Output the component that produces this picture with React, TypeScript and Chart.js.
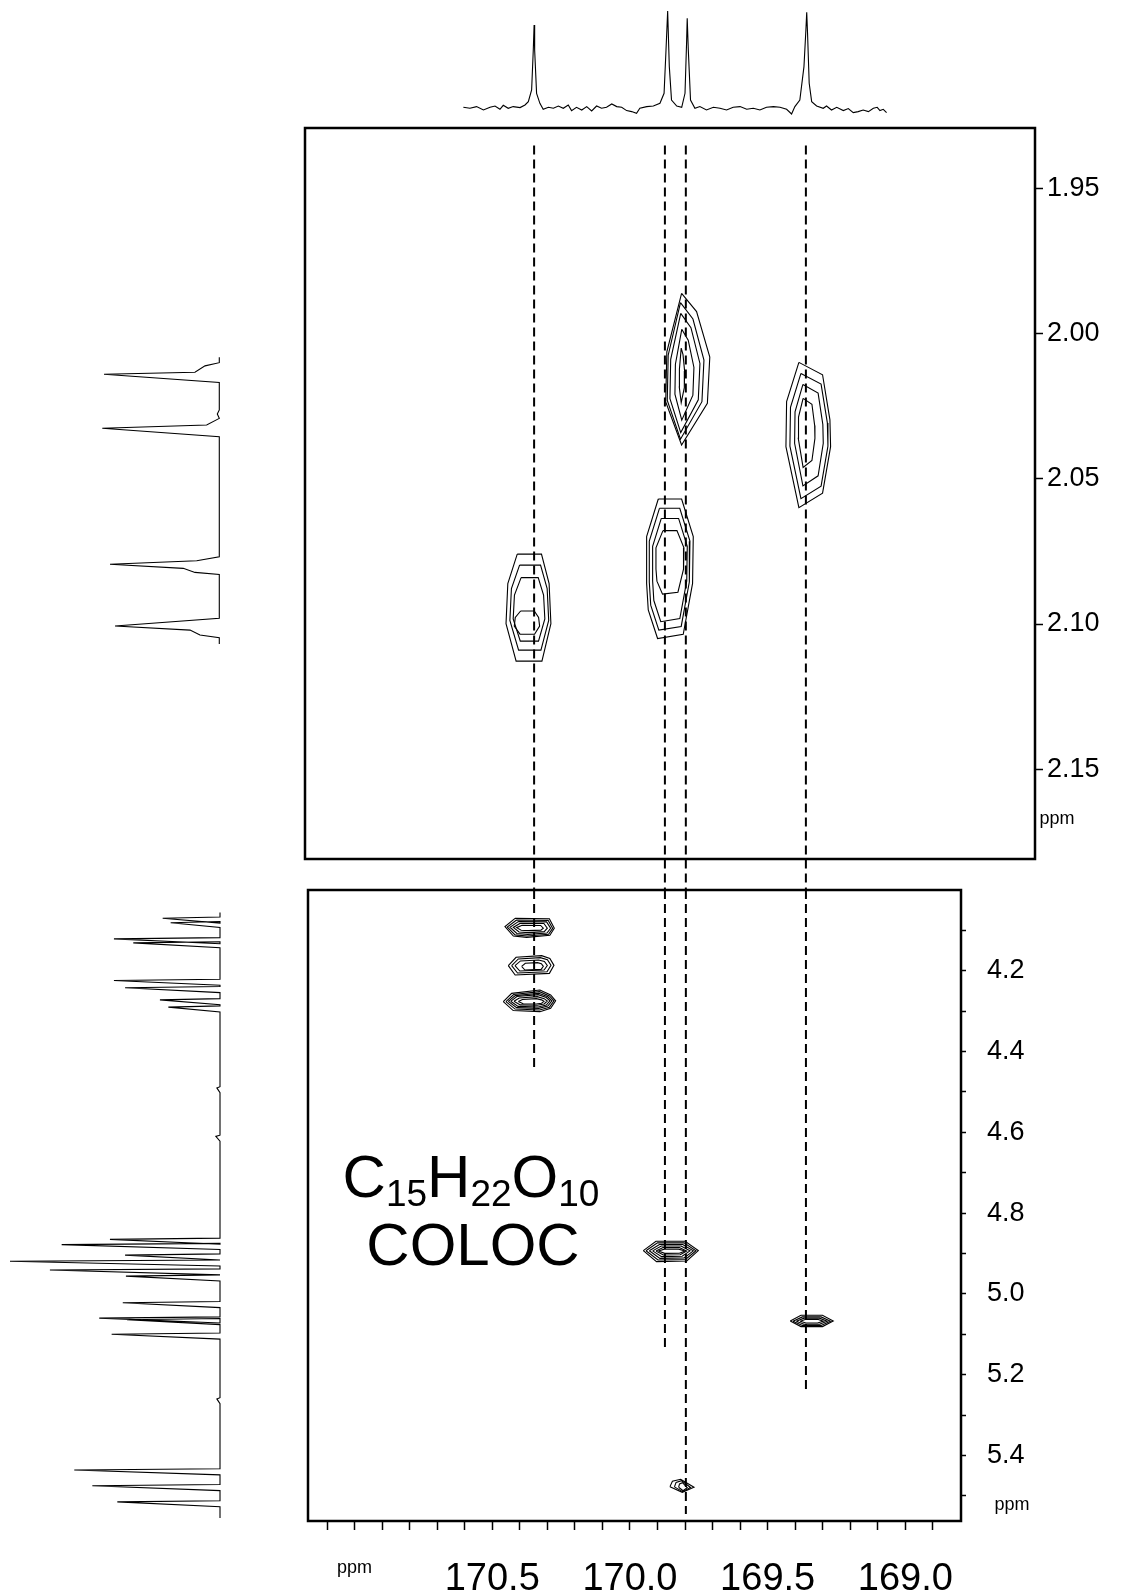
import React, { useEffect, useRef } from 'react';
import { Chart, registerables } from 'chart.js';

Chart.register(...registerables);

const SANS = "'Liberation Sans', Arial, Helvetica, sans-serif";
const NARROW = "'Liberation Sans Narrow', 'Arial Narrow', 'Liberation Sans', sans-serif";

// ---------- 13C trace (carbonyl region, top) ----------
const CARBON_PPM = [170.605,170.581,170.557,170.532,170.508,170.490,170.472,170.460,170.442,170.424,170.399,170.381,170.369,170.357,170.351,170.348,170.346,170.339,170.327,170.315,170.296,170.278,170.260,170.242,170.224,170.212,170.194,170.175,170.157,170.139,170.121,170.103,170.085,170.066,170.048,170.030,170.012,169.994,169.976,169.964,169.939,169.915,169.891,169.876,169.869,169.863,169.857,169.849,169.830,169.812,169.800,169.794,169.792,169.788,169.780,169.764,169.746,169.722,169.697,169.673,169.649,169.625,169.600,169.576,169.552,169.528,169.504,169.479,169.455,169.431,169.413,169.401,169.383,169.368,169.361,169.358,169.355,169.349,169.340,169.322,169.298,169.286,169.268,169.249,169.225,169.207,169.189,169.171,169.153,169.134,169.116,169.102,169.092,169.080,169.068];
const CARBON_INT = [0,-1,0.7,-2.7,0,1.3,-2,2,-1,0.7,-0.3,2.3,5.7,17.3,57.3,82.3,57.3,14,4,-2,0,-1,1.3,-1,2.3,-3.3,0,-2.7,0.7,-3.7,1.3,-1,0,3.3,0.7,0,-3.3,-4.3,-6,-1,0.7,1.3,4,14,57.3,96.3,40.7,7.3,1.3,0,14,67.3,89,57.3,7.3,-1,0.7,-2.7,0,-1,-2.7,0,0.7,-2,-1,-2.7,0,0.7,0,-2,-6.7,0.7,7.3,40.7,77.3,95,74,24,5.7,1.3,-1,1.3,-2.7,0,-3.3,-1.3,-5.3,-4.3,-2.7,-4.3,-1,0,-3.3,-2,-5.3];

// ---------- 1H trace, acetyl methyl region (left of upper panel) ----------
const ACETYL_H_PPM = [2.0080,2.0099,2.0110,2.0132,2.0139,2.0167,2.0262,2.0276,2.0291,2.0314,2.0325,2.0354,2.0768,2.0782,2.0794,2.0808,2.0822,2.0829,2.0980,2.1007,2.1021,2.1038,2.1047,2.1069];
const ACETYL_H_INT = [0,0,12.2,20.8,98.5,0,0,1.7,0,10.8,100,0,0,19.3,93.4,30.8,20.8,0,0,89.1,25,16.5,0,0];

// ---------- 1H peak list, sugar region (left of lower panel) ----------
const SUGAR_H_PEAK_PPM = [4.070,4.081,4.121,4.131,4.224,4.242,4.272,4.290,4.490,4.610,4.865,4.878,4.904,4.919,4.941,4.956,5.022,5.060,5.064,5.100,5.260,5.436,5.475,5.515];
const SUGAR_H_PEAK_INT = [27.3,23.5,50.5,41.3,50.5,45.2,28.6,24.6,1.5,2,52.4,75.4,45.2,100,81,44.8,46.3,57.5,44.3,51.6,1.5,69.4,60.8,48.9];
const SUGAR_H_START = 4.056;
const SUGAR_H_END = 5.555;
const SPIKE_LEAD = 0.003;
const SPIKE_TAIL = 0.012;

// ---------- carbonyl correlation guides ----------
const CARBONYL_PPM = [170.348, 169.873, 169.797, 169.361];
const GUIDE_TOP = 1.935;
const GUIDE_GAP_END = 2.192;
const GUIDE_LOWER_END = [4.44, 5.135, 5.545, 5.243];

// ---------- axes ----------
const UPPER_X_RANGE = [168.529, 171.18];
const LOWER_X_RANGE = [168.798, 171.169];
const ACETYL_Y_RANGE = [1.929, 2.181];
const SUGAR_Y_RANGE = [4.0, 5.5623];
const ACETYL_Y_TICKS = [1.95, 2.0, 2.05, 2.1, 2.15];
const SUGAR_Y_TICKS = [4.1, 4.2, 4.3, 4.4, 4.5, 4.6, 4.7, 4.8, 4.9, 5.0, 5.1, 5.2, 5.3, 5.4, 5.5];
const SUGAR_Y_LABELED = [4.2, 4.4, 4.6, 4.8, 5.0, 5.2, 5.4];
const X_TICKS = [171.1, 171.0, 170.9, 170.8, 170.7, 170.6, 170.5, 170.4, 170.3, 170.2, 170.1, 170.0, 169.9, 169.8, 169.7, 169.6, 169.5, 169.4, 169.3, 169.2, 169.1, 169.0, 168.9];
const X_MAJOR = [171.0, 170.5, 170.0, 169.5, 169.0];
const X_MAJOR_TEXT = ['ppm', '170.5', '170.0', '169.5', '169.0'];
const CARBON_Y_RANGE = [-17.7, 107.3];
const ACETYL_H_X_RANGE = [-9.15, 187.4];
const SUGAR_H_X_RANGE = [-4.76, 104.76];

// ---------- contour rings: [ppm left, ppm right, ppm top, ppm bottom], outer to inner ----------
const SHAPE_A = [[-0.28,-1],[0.40,-0.76],[1,-0.16],[0.89,0.45],[-0.28,1],[-1,0.43],[-0.95,-0.23]];
const RINGS_A = [[169.870,169.710,1.9860,2.0383],[169.8644,169.7312,1.9892,2.0363],[169.8547,169.7458,1.9929,2.0340],[169.8366,169.7676,1.9984,2.0297],[169.8208,169.8014,2.0049,2.0237]];
const SHAPE_B = [[-0.42,-1],[0.64,-0.83],[0.97,-0.21],[1,0.16],[0.64,0.80],[-0.42,1],[-1,0.16],[-0.97,-0.46]];
const RINGS_B = [[169.4335,169.2713,2.0098,2.0599],[169.4190,169.2810,2.0136,2.0568],[169.4020,169.2979,2.0174,2.0524],[169.3887,169.3282,2.0222,2.0460]];
const SHAPE_C = [[-0.5,-1],[0.5,-1],[1,-0.46],[0.97,0.21],[0.57,0.94],[-0.53,1],[-0.93,0.59],[-1,0.21],[-1,-0.46]];
const RINGS_C = [[169.9394,169.7700,2.0569,2.1050],[169.9297,169.7821,2.0601,2.1021],[169.9176,169.7918,2.0636,2.0992],[169.9055,169.8039,2.0678,2.0897]];
const SHAPE_D = [[-0.5,-1],[0.58,-1],[0.92,-0.45],[1,0.3],[0.6,1],[-0.55,1],[-1,0.3],[-0.92,-0.45]];
const RINGS_D = [[170.450,170.287,2.0759,2.1128],[170.436,170.295,2.0797,2.1090],[170.424,170.309,2.0840,2.1059],[170.420,170.328,2.0955,2.1035]];

const SHAPE_L1 = [[-0.59,-1],[0.8,-0.96],[1,0.05],[0.82,0.79],[-0.12,1],[-0.66,0.86],[-1,-0.12]];
const RINGS_L1 = [[170.4538,170.2747,4.0701,4.1172],[170.4454,170.2807,4.0743,4.1139],[170.4357,170.2880,4.0784,4.1098],[170.4236,170.3001,4.0825,4.1056],[170.4115,170.3146,4.0875,4.1007]];
const SHAPE_L2 = [[-1,0.03],[-0.66,-0.83],[0.46,-1],[0.82,-0.72],[1,0],[0.8,0.83],[-0.7,1]];
const RINGS_L2 = [[170.4417,170.2759,4.1626,4.2105],[170.4296,170.2868,4.1675,4.2055],[170.4175,170.3001,4.1733,4.2006],[170.3933,170.3146,4.1799,4.1981]];
const SHAPE_L3 = [[-1,0.08],[-0.68,-0.69],[0.4,-1],[0.81,-0.54],[1,0],[0.81,0.69],[0.4,1],[-0.62,0.9]];
const RINGS_L3 = [[170.4599,170.2699,4.2476,4.3012],[170.4502,170.2759,4.2517,4.2971],[170.4417,170.2832,4.2558,4.2930],[170.4333,170.2904,4.2591,4.2897],[170.4212,170.3001,4.2641,4.2855],[170.4054,170.3122,4.2690,4.2823]];
const SHAPE_L4 = [[-1,-0.05],[-0.54,-0.94],[0.52,-0.94],[1,-0.05],[0.58,0.94],[-0.52,1]];
const RINGS_L4 = [[169.9515,169.7518,4.8682,4.9202],[169.9418,169.7602,4.8723,4.9161],[169.9297,169.7699,4.8765,4.9120],[169.9176,169.7820,4.8806,4.9078],[169.9055,169.7941,4.8847,4.9037],[169.8970,169.8002,4.8888,4.8996]];
const SHAPE_L5 = [[-1,0],[-0.5,-1],[0.5,-1],[1,0],[0.5,1],[-0.5,1]];
const RINGS_L5 = [[169.418,169.262,5.053,5.081],[169.408,169.272,5.057,5.078],[169.396,169.284,5.060,5.075],[169.382,169.298,5.063,5.072]];
const SHAPE_L6 = [[-0.95,0.13],[-0.75,-0.69],[-0.08,-1],[1,0.23],[0.05,1]];
const RINGS_L6 = [[169.857,169.7675,5.4591,5.4912],[169.840,169.780,5.4625,5.4897],[169.824,169.792,5.4675,5.4873]];

const ACETYL_PEAKS = [
  { rings: RINGS_A, shape: SHAPE_A },
  { rings: RINGS_B, shape: SHAPE_B },
  { rings: RINGS_C, shape: SHAPE_C },
  { rings: RINGS_D, shape: SHAPE_D },
];
const SUGAR_PEAKS = [
  { rings: RINGS_L1, shape: SHAPE_L1 },
  { rings: RINGS_L2, shape: SHAPE_L2 },
  { rings: RINGS_L3, shape: SHAPE_L3 },
  { rings: RINGS_L4, shape: SHAPE_L4 },
  { rings: RINGS_L5, shape: SHAPE_L5 },
  { rings: RINGS_L6, shape: SHAPE_L6 },
];

// ---------- helpers ----------
function ringPath(box: number[], shape: number[][]) {
  const [xl, xr, yt, yb] = box;
  const pts = shape.map(([u, v]) => ({
    x: xl + ((u + 1) / 2) * (xr - xl),
    y: yt + ((v + 1) / 2) * (yb - yt),
  }));
  pts.push(pts[0]);
  return pts;
}

function trace(data: { x: number; y: number }[], width = 1.1, extra: any = {}) {
  return {
    data,
    showLine: true,
    borderColor: '#000',
    borderWidth: width,
    pointRadius: 0,
    fill: false,
    tension: 0,
    ...extra,
  };
}

function contourSets(peaks: { rings: number[][]; shape: number[][] }[]) {
  const out: any[] = [];
  peaks.forEach((p) => p.rings.forEach((r) => out.push(trace(ringPath(r, p.shape), 1.1))));
  return out;
}

function guideSets(y0: (i: number) => number, y1: (i: number) => number) {
  return CARBONYL_PPM.map((x, i) =>
    trace([{ x, y: y0(i) }, { x, y: y1(i) }], 2, { borderDash: [9, 5], clip: false })
  );
}

function baseOptions(padding: any) {
  return {
    responsive: false,
    animation: false,
    events: [],
    layout: { padding },
    plugins: { legend: { display: false }, tooltip: { enabled: false }, title: { display: false } },
  };
}

const hidden = (range: number[], reverse: boolean) => ({
  type: 'linear',
  display: false,
  min: range[0],
  max: range[1],
  reverse,
});

// keep tick-label overhang from pushing the plot area around
function fixedFit(size: { width?: number; height?: number }) {
  return (s: any) => {
    if (size.width !== undefined) s.width = size.width;
    if (size.height !== undefined) s.height = size.height;
    s.paddingTop = 0;
    s.paddingBottom = 0;
    s.paddingLeft = 0;
    s.paddingRight = 0;
  };
}

const framePlugin = {
  id: 'frame',
  afterDatasetsDraw(chart: any) {
    const { ctx, chartArea } = chart;
    ctx.save();
    ctx.strokeStyle = '#000';
    ctx.lineWidth = 2.5;
    ctx.strokeRect(chartArea.left, chartArea.top, chartArea.right - chartArea.left, chartArea.bottom - chartArea.top);
    ctx.restore();
  },
};

function unitPlugin(dx: number, dy: number) {
  return {
    id: 'unitLabel',
    afterDraw(chart: any) {
      const { ctx, chartArea } = chart;
      ctx.save();
      ctx.fillStyle = '#000';
      ctx.font = `18px ${SANS}`;
      ctx.textAlign = 'center';
      ctx.textBaseline = 'middle';
      ctx.fillText('ppm', chartArea.right + dx, chartArea.bottom + dy);
      ctx.restore();
    },
  };
}

const FORMULA_PARTS: [string, boolean][] = [['C', false], ['15', true], ['H', false], ['22', true], ['O', false], ['10', true]];

const formulaPlugin = {
  id: 'formula',
  afterDatasetsDraw(chart: any) {
    const { ctx, chartArea } = chart;
    const cx = chartArea.left + 163;
    const big = `60px ${SANS}`;
    const small = `37px ${SANS}`;
    ctx.save();
    ctx.fillStyle = '#000';
    ctx.textBaseline = 'alphabetic';
    ctx.textAlign = 'left';
    let total = 0;
    FORMULA_PARTS.forEach(([t, sub]) => {
      ctx.font = sub ? small : big;
      total += ctx.measureText(t).width;
    });
    let x = cx - total / 2;
    const base = chartArea.top + 307;
    FORMULA_PARTS.forEach(([t, sub]) => {
      ctx.font = sub ? small : big;
      ctx.fillText(t, x, sub ? base + 9 : base);
      x += ctx.measureText(t).width;
    });
    ctx.font = big;
    ctx.textAlign = 'center';
    ctx.fillText('COLOC', cx + 2, chartArea.top + 375);
    ctx.restore();
  },
};

// ---------- chart configs ----------
function makeTop() {
  return {
    type: 'scatter',
    data: { datasets: [trace(CARBON_PPM.map((x, i) => ({ x, y: CARBON_INT[i] })), 1.1)] },
    options: {
      ...baseOptions(0),
      scales: { x: hidden(UPPER_X_RANGE, true), y: hidden(CARBON_Y_RANGE, false) },
    },
  };
}

function makeUpper() {
  return {
    type: 'scatter',
    data: {
      datasets: [
        ...contourSets(ACETYL_PEAKS),
        ...guideSets(() => GUIDE_TOP, () => GUIDE_GAP_END),
      ],
    },
    options: {
      ...baseOptions({ left: 5, top: 5, right: 0, bottom: 33 }),
      scales: {
        x: hidden(UPPER_X_RANGE, true),
        y: {
          type: 'linear',
          position: 'right',
          reverse: true,
          min: ACETYL_Y_RANGE[0],
          max: ACETYL_Y_RANGE[1],
          afterBuildTicks: (s: any) => {
            s.ticks = ACETYL_Y_TICKS.map((value) => ({ value }));
          },
          afterFit: fixedFit({ width: 90 }),
          border: { display: false },
          grid: { drawOnChartArea: false, drawTicks: true, tickLength: 8, tickColor: '#000', tickWidth: 1.5 },
          ticks: {
            autoSkip: false,
            padding: 4,
            color: '#000',
            font: { size: 27, family: SANS },
            callback: (v: any) => Number(v).toFixed(2),
          },
        },
      },
    },
    plugins: [framePlugin, unitPlugin(22, -40)],
  };
}

function makeLower() {
  return {
    type: 'scatter',
    data: {
      datasets: [
        ...contourSets(SUGAR_PEAKS),
        ...guideSets(() => SUGAR_Y_RANGE[0], (i) => GUIDE_LOWER_END[i]),
      ],
    },
    options: {
      ...baseOptions({ left: 5, top: 32, right: 0, bottom: 0 }),
      scales: {
        x: {
          type: 'linear',
          position: 'bottom',
          reverse: true,
          min: LOWER_X_RANGE[0],
          max: LOWER_X_RANGE[1],
          afterBuildTicks: (s: any) => {
            s.ticks = X_TICKS.map((value) => ({ value }));
          },
          afterFit: fixedFit({ height: 72 }),
          border: { display: false },
          grid: { drawOnChartArea: false, drawTicks: true, tickLength: 9, tickColor: '#000', tickWidth: 1.5 },
          ticks: {
            autoSkip: false,
            maxRotation: 0,
            minRotation: 0,
            padding: 27,
            color: '#000',
            font: (ctx: any) => {
              const v = ctx.tick ? ctx.tick.value : 0;
              return Math.abs(v - X_MAJOR[0]) < 1e-6 ? { size: 18, family: SANS } : { size: 38, family: NARROW };
            },
            callback: (v: any) => {
              const k = X_MAJOR.findIndex((m) => Math.abs(m - Number(v)) < 1e-6);
              return k >= 0 ? X_MAJOR_TEXT[k] : '';
            },
          },
        },
        y: {
          type: 'linear',
          position: 'right',
          reverse: true,
          min: SUGAR_Y_RANGE[0],
          max: SUGAR_Y_RANGE[1],
          afterBuildTicks: (s: any) => {
            s.ticks = SUGAR_Y_TICKS.map((value) => ({ value }));
          },
          afterFit: fixedFit({ width: 160 }),
          border: { display: false },
          grid: { drawOnChartArea: false, drawTicks: true, tickLength: 5, tickColor: '#000', tickWidth: 1.5 },
          ticks: {
            autoSkip: false,
            padding: 21,
            color: '#000',
            font: { size: 27, family: SANS },
            callback: (v: any) =>
              SUGAR_Y_LABELED.some((m) => Math.abs(m - Number(v)) < 1e-6) ? Number(v).toFixed(1) : '',
          },
        },
      },
    },
    plugins: [framePlugin, unitPlugin(51, -16), formulaPlugin],
  };
}

function makeAcetylProjection() {
  return {
    type: 'scatter',
    data: { datasets: [trace(ACETYL_H_PPM.map((y, i) => ({ x: ACETYL_H_INT[i], y })), 1.1)] },
    options: {
      ...baseOptions({ left: 0, top: 5, right: 0, bottom: 33 }),
      scales: { x: hidden(ACETYL_H_X_RANGE, true), y: hidden(ACETYL_Y_RANGE, true) },
    },
  };
}

function sugarTrace() {
  const pts = [{ x: 0, y: SUGAR_H_START }];
  SUGAR_H_PEAK_PPM.forEach((p, i) => {
    pts.push({ x: 0, y: p - SPIKE_LEAD }, { x: SUGAR_H_PEAK_INT[i], y: p }, { x: 0, y: p + SPIKE_TAIL });
  });
  pts.push({ x: 0, y: SUGAR_H_END });
  return pts;
}

function makeSugarProjection() {
  return {
    type: 'scatter',
    data: { datasets: [trace(sugarTrace(), 1.1)] },
    options: {
      ...baseOptions({ left: 0, top: 32, right: 0, bottom: 72 }),
      scales: { x: hidden(SUGAR_H_X_RANGE, true), y: hidden(SUGAR_Y_RANGE, true) },
    },
  };
}

function Panel(props: { left: number; top: number; width: number; height: number; make: () => any }) {
  const ref = useRef<HTMLCanvasElement>(null);
  const { left, top, width, height, make } = props;
  useEffect(() => {
    const chart = new Chart(ref.current as HTMLCanvasElement, make());
    return () => chart.destroy();
  }, [make]);
  return (
    <canvas
      ref={ref}
      width={width}
      height={height}
      style={{ position: 'absolute', left, top, width, height, display: 'block' }}
    />
  );
}

export default function App() {
  return (
    <div style={{ position: 'absolute', left: 0, top: 0, width: 1127, height: 1593, overflow: 'hidden', background: '#fff' }}>
      <Panel left={305} top={0} width={730} height={125} make={makeTop} />
      <Panel left={0} top={123} width={230} height={769} make={makeAcetylProjection} />
      <Panel left={0} top={858} width={230} height={735} make={makeSugarProjection} />
      <Panel left={300} top={123} width={825} height={769} make={makeUpper} />
      <Panel left={303} top={858} width={818} height={735} make={makeLower} />
    </div>
  );
}
